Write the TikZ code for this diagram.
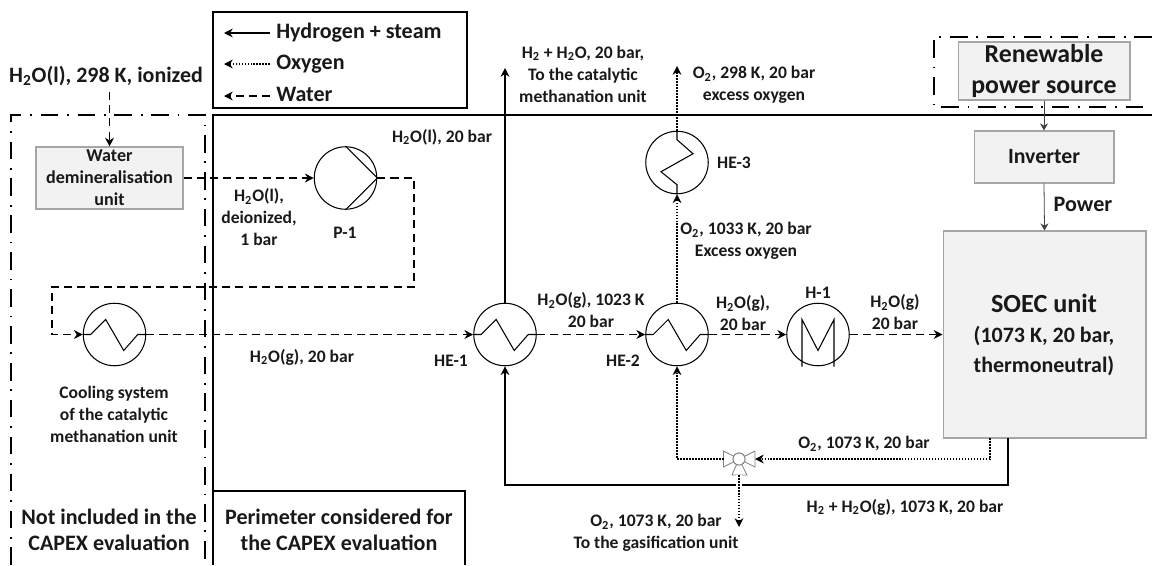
\documentclass[tikz,border=0pt]{standalone}
\usepackage{fontspec}
\setmainfont{Carlito}
\usetikzlibrary{arrows.meta}
\definecolor{cfond}{RGB}{242,242,242}
\definecolor{cbord}{RGB}{166,166,166}
\definecolor{ctexte}{RGB}{25,25,25}
\definecolor{cvanne}{RGB}{130,130,130}
\newcommand{\eau}{H\textsubscript{2}O}
\newcommand{\otwo}{O\textsubscript{2}}
\newcommand{\htwo}{H\textsubscript{2}}
\tikzset{
  lbl/.style={inner sep=0pt, align=center, text=ctexte, font=\bfseries\fontsize{10}{12.5}\selectfont},
  lblbig/.style={inner sep=0pt, align=center, text=ctexte, font=\bfseries\fontsize{12.55}{15}\selectfont},
  legtxt/.style={lblbig, anchor=west, inner xsep=3.4pt, text height=8.5pt, text depth=2.5pt},
  unitbox/.style={draw=cbord, fill=cfond, inner sep=0pt, align=center, text=ctexte, line width=0.6pt},
  equip/.style={circle, draw, line width=0.6pt, inner sep=0pt, minimum size=1.25cm},
  hyd/.style={line width=0.6pt},
  oxy/.style={line width=0.6pt, dash pattern=on 0.9pt off 0.8pt},
  wat/.style={line width=0.6pt, dash pattern=on 4.6pt off 2.9pt},
  elec/.style={line width=0.45pt, draw=black!75, >={Stealth[length=4pt,width=4.5pt]}},
  limite/.style={line width=1.1pt, dash pattern=on 10pt off 5pt on 1pt off 5pt},
  vannetri/.style={draw=cvanne, line width=0.5pt}
}
\begin{document}
\begin{tikzpicture}[x=0.02cm, y=-0.02cm, >={Stealth[length=5pt,width=5pt]}]
\useasboundingbox (0,0) rectangle (1152,565);
% perimetres
\draw[limite] (11,565) -- (11,115) -- (205,115) -- (205,565);
\draw[line width=1.4pt] (213,565) -- (213,115) -- (1152,115);
\draw[limite] (1152,37) -- (934,37) -- (934,107) -- (1152,107);
% legende
\draw[line width=0.9pt] (213,12) rectangle (467,108);
\node[legtxt] (leghyd) at (270,33) {Hydrogen + steam};
\node[legtxt] (legoxy) at (270,64) {Oxygen};
\node[legtxt] (legwat) at (270,96) {Water};
\coordinate (lega) at (224,33);
\coordinate (legb) at (224,64);
\coordinate (legc) at (224,96);
\draw[hyd,->] (leghyd.west) -- (lega);
\draw[oxy,->] (legoxy.west) -- (legb);
\draw[wat,->] (legwat.west) -- (legc);
% unites
\node[unitbox, minimum width=2.94cm, minimum height=1.24cm, font=\bfseries\fontsize{10.3}{12.5}\selectfont] (demin) at (109.5,178) {Water\\demineralisation\\unit};
\node[unitbox, minimum width=3.44cm, minimum height=1.16cm, font=\bfseries\fontsize{14.7}{18}\selectfont] (renew) at (1044,71) {Renewable\\power source};
\node[unitbox, minimum width=2.8cm, minimum height=1.04cm, font=\bfseries\fontsize{12.4}{15}\selectfont] (inv) at (1044,157) {Inverter};
\node[unitbox, minimum width=4.06cm, minimum height=4.14cm] (soec) at (1044.5,334.5) {};
\node[inner sep=0pt, align=center, text=ctexte, font=\bfseries\fontsize{12.5}{17}\selectfont] (soectxt) at (1044,335) {{\fontsize{14.9}{17}\selectfont SOEC unit}\\(1073 K, 20 bar,\\thermoneutral)};
% equipements
\node[equip] (p1) at (345.5,178) {};
\node[equip] (cool) at (114.5,334.5) {};
\node[equip] (he1) at (505,334.5) {};
\node[equip] (he2) at (677,334.5) {};
\node[equip] (h1) at (818,334.5) {};
\node[equip] (he3) at (677,162.5) {};
\draw[line width=0.6pt] (p1.north) -- (p1.east) -- (p1.south);
\draw[line width=0.6pt] (cool.west) -- ++(8,0) -- ++(15,-15) -- ++(18,31) -- ++(14,-16) -- (cool.east);
\draw[line width=0.6pt] (he1.west) -- ++(8,0) -- ++(15,-15) -- ++(18,31) -- ++(14,-16) -- (he1.east);
\draw[line width=0.6pt] (he2.west) -- ++(8,0) -- ++(15,-15) -- ++(18,31) -- ++(14,-16) -- (he2.east);
\draw[line width=0.6pt] (h1.center) ++(-16,32) -- ++(0,-47) -- ++(16,31) -- ++(16,-31) -- ++(0,47);
\draw[line width=0.6pt] (he3.north) -- ++(0,9) -- ++(16,14) -- ++(-32,18) -- ++(16,13) -- (he3.south);
% eau
\coordinate (entree) at (109.5,92);
\coordinate (wa) at (414,178);
\coordinate (wb) at (414,287);
\coordinate (wc) at (52,287);
\coordinate (wd) at (52,334.5);
\draw[wat,->] (entree) -- (demin.north);
\draw[wat,->] (demin.east) -- (p1.west);
\draw[wat,->] (p1.east) -- (wa) -- (wb) -- (wc) -- (wd) -- (cool.west);
\draw[wat,->] (cool.east) -- (he1.west);
\draw[wat,->] (he1.east) -- (he2.west);
\draw[wat,->] (he2.east) -- (h1.west);
\draw[wat,->] (h1.east) -- (soec.west |- h1.east);
% hydrogene
\coordinate (hstart) at (1008,438);
\coordinate (hcoin) at (1008,485);
\coordinate (hbas) at (505,485);
\coordinate (hsortie) at (505,68);
\draw[hyd,->] (hstart) -- (hcoin) -- (hbas) -- (he1.south);
\draw[hyd,->] (he1.north) -- (hsortie);
% vanne
\node[circle, draw=cvanne, line width=0.5pt, inner sep=0pt, minimum size=0.24cm] (vanne) at (739,459) {};
\coordinate (vannel) at (723.5,459);
\coordinate (vanner) at (755,459);
\coordinate (vanneb) at (739,475);
\draw[vannetri] (vanne.center) -- (723.5,451) -- (723.5,467) -- cycle;
\draw[vannetri] (vanne.center) -- (755,451) -- (755,467) -- cycle;
\draw[vannetri] (vanne.center) -- (732,475) -- (747,475) -- cycle;
\node[circle, draw=cvanne, fill=white, line width=0.5pt, inner sep=0pt, minimum size=0.24cm] (vannec) at (vanne) {};
% oxygene
\coordinate (ostart) at (990,438);
\coordinate (ocoin) at (990,459);
\coordinate (ogauche) at (677,459);
\coordinate (osortie) at (677,66);
\coordinate (ogaz) at (739,527);
\coordinate (ocroise) at (739,492);
\draw[oxy,->] (ostart) -- (ocoin) -- (vanner);
\draw[oxy,->] (vannel) -- (ogauche) -- (he2.south);
\draw[oxy,->] (he2.north) -- (he3.south);
\draw[oxy,->] (he3.north) -- (osortie);
\draw[white, line width=3.5pt] (vanneb) -- (ocroise);
\draw[oxy,->] (vanneb) -- (ogaz);
% alimentation
\draw[elec,->] (renew.south) -- (inv.north);
\draw[elec,->] (inv.south) -- (soec.north);
% textes
\node[lbl, font=\bfseries\fontsize{12.5}{14}\selectfont] (t1) at (106,76) {\eau(l), 298 K, ionized};
\node[lbl] (t2) at (259,217) {\eau(l),\\deionized,\\1 bar};
\node[lbl] (t3) at (345,233) {P-1};
\node[lbl] (t4) at (442,137) {\eau(l), 20 bar};
\node[lbl] (t5) at (583,74) {\htwo{} + \eau, 20 bar,\\To the catalytic\\methanation unit};
\node[lbl] (t6) at (754,85) {\otwo, 298 K, 20 bar\\excess oxygen};
\node[lbl] (t7) at (734,163) {HE-3};
\node[lbl, font=\bfseries\fontsize{12.6}{14}\selectfont] (t8) at (1083,204) {Power};
\node[lbl] (t9) at (746,241) {\otwo, 1033 K, 20 bar\\Excess oxygen};
\node[lbl] (t10) at (591,310.5) {\eau(g), 1023 K\\20 bar};
\node[lbl] (t11) at (743,313) {\eau(g),\\20 bar};
\node[lbl] (t12) at (818,293) {H-1};
\node[lbl] (t13) at (895,312) {\eau(g)\\20 bar};
\node[lbl] (t14) at (302,357) {\eau(g), 20 bar};
\node[lbl] (t15) at (451,361) {HE-1};
\node[lbl] (t16) at (623,361) {HE-2};
\node[lbl] (t17) at (114,414) {Cooling system\\of the catalytic\\methanation unit};
\node[lbl] (t18) at (864,444) {\otwo, 1073 K, 20 bar};
\node[lbl] (t19) at (905,507) {\htwo{} + \eau(g), 1073 K, 20 bar};
\node[lbl] (t20) at (656,533) {\otwo, 1073 K, 20 bar\\To the gasification unit};
\node[lblbig] (t21) at (109,530) {Not included in the\\CAPEX evaluation};
\node[lblbig] (t22) at (339,530) {Perimeter considered for\\the CAPEX evaluation};
\draw[line width=0.9pt] (213.5,565) -- (213.5,491) -- (465,491) -- (465,565);
\end{tikzpicture}
\end{document}
